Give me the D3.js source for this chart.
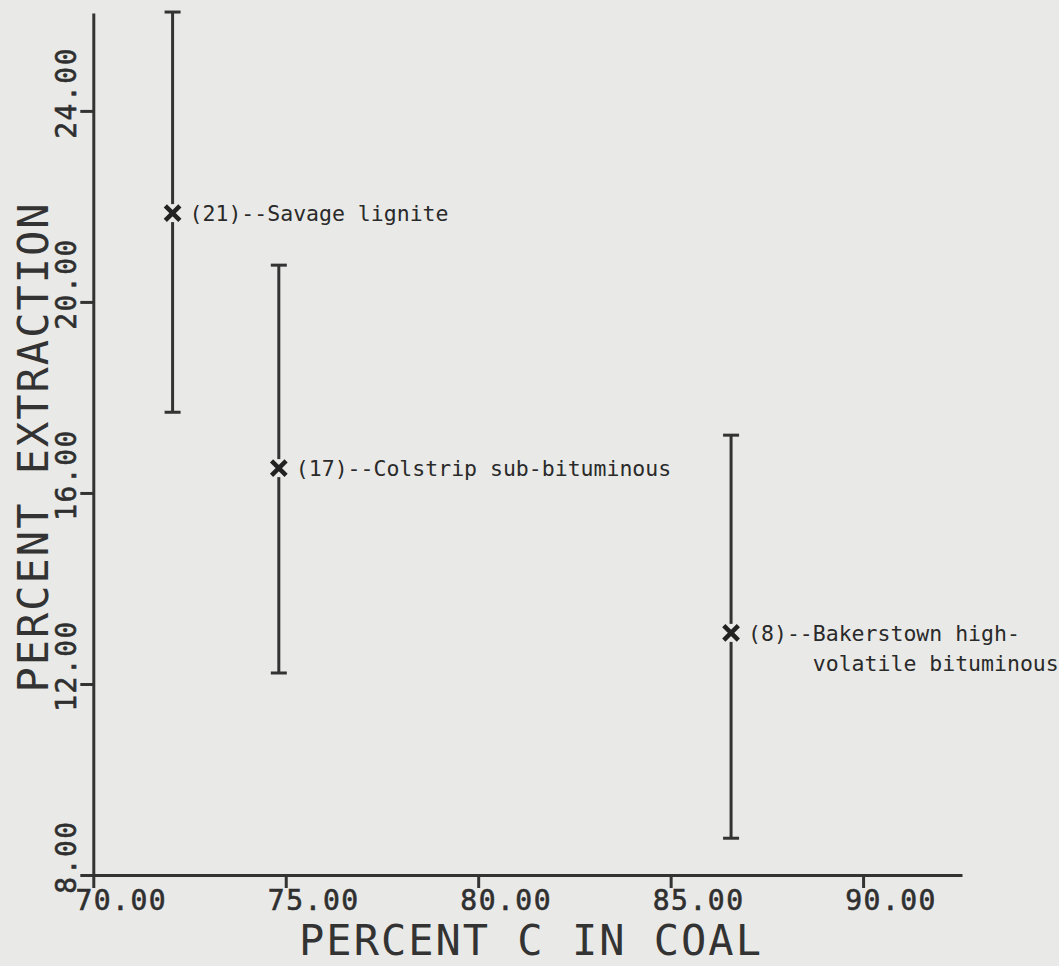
<!DOCTYPE html>
<html>
<head>
<meta charset="utf-8">
<script src="https://cdnjs.cloudflare.com/ajax/libs/d3/7.8.5/d3.min.js"></script>
<style>
  body { margin: 0; background: #e9e9e7; }
  svg { display: block; }
  .axis path, .axis line { stroke: #333; stroke-width: 3px; }
  .ticklbl { font-family: "DejaVu Sans Mono", monospace; font-size: 28px; fill: #2f2f2f; letter-spacing: 1.5px; stroke: #2f2f2f; stroke-width: 0.6px; }
  .title { font-family: "DejaVu Sans Mono", monospace; font-size: 42px; fill: #333; letter-spacing: 2px; }
  .ptlbl { font-family: "DejaVu Sans Mono", monospace; font-size: 21.5px; fill: #2a2a2a; }
  .bar { stroke: #333; stroke-width: 3px; fill: none; }
  .mark { stroke: #222; stroke-width: 4.5px; fill: none; }
</style>
</head>
<body>
<div id="chartHolder"></div>
<script>
// coal samples
const coals = ["(21)--Savage lignite", "(17)--Colstrip sub-bituminous", "(8)--Bakerstown high-"];
const labelLine2 = ["", "", "     volatile bituminous"];
const carbon = [72.06, 74.82, 86.57];     // percent C in coal
const extraction = [21.86, 16.52, 13.07]; // percent extraction
const extrLow = [17.69, 12.23, 8.77];
const extrHigh = [26.07, 20.77, 17.21];

const xTicks = [70, 75, 80, 85, 90];
const yTicks = [8, 12, 16, 20, 24];

const w = 1059;
const h = 966;

const x = d3.scaleLinear().domain([70, 92.57]).range([93.3, 962]);
const y = d3.scaleLinear().domain([8, 26.05]).range([875, 13]);

const svg = d3.select("#chartHolder")
  .append("svg")
  .attr("width", w)
  .attr("height", h);

// axes, labels drawn by hand below because the plotter shifts them off the ticks
const xAxis = d3.axisBottom(x).tickValues(xTicks).tickSize(13).tickSizeOuter(0).tickFormat("");
svg.append("g")
  .attr("class", "axis")
  .attr("transform", "translate(0," + y(8) + ")")
  .call(xAxis);

const yAxis = d3.axisLeft(y).tickValues(yTicks).tickSize(13).tickSizeOuter(0).tickFormat("");
svg.append("g")
  .attr("class", "axis")
  .attr("transform", "translate(" + x(70) + ",0)")
  .call(yAxis);

svg.selectAll(".xlbl")
  .data(xTicks)
  .enter()
  .append("text")
  .attr("class", "ticklbl")
  .attr("text-anchor", "middle")
  .attr("x", (d) => x(d) + 28)
  .attr("y", 910)
  .text((d) => d3.format(".2f")(d));

svg.selectAll(".ylbl")
  .data(yTicks)
  .enter()
  .append("text")
  .attr("class", "ticklbl")
  .attr("text-anchor", "middle")
  .attr("transform", (d) => "translate(76," + (y(d) - 18) + ")rotate(-90)")
  .text((d) => d3.format(".2f")(d));

svg.append("text")
  .attr("class", "title")
  .attr("text-anchor", "middle")
  .attr("x", 531)
  .attr("y", 955)
  .text("PERCENT C IN COAL");

svg.append("text")
  .attr("class", "title")
  .attr("text-anchor", "middle")
  .attr("transform", "translate(48,447)rotate(-90)")
  .text("PERCENT EXTRACTION");

// error bars with a small gap round the cross
const gap = 9;
const capW = 8;
const pts = d3.range(coals.length);

pts.forEach((i) => {
  const cx = x(carbon[i]);
  const cy = y(extraction[i]);
  const g = svg.append("g");
  g.append("line").attr("class", "bar")
    .attr("x1", cx).attr("x2", cx)
    .attr("y1", y(extrHigh[i])).attr("y2", cy - gap);
  g.append("line").attr("class", "bar")
    .attr("x1", cx).attr("x2", cx)
    .attr("y1", cy + gap).attr("y2", y(extrLow[i]));
  g.append("line").attr("class", "bar")
    .attr("x1", cx - capW).attr("x2", cx + capW)
    .attr("y1", y(extrHigh[i])).attr("y2", y(extrHigh[i]));
  g.append("line").attr("class", "bar")
    .attr("x1", cx - capW).attr("x2", cx + capW)
    .attr("y1", y(extrLow[i])).attr("y2", y(extrLow[i]));
  g.append("path")
    .attr("class", "mark")
    .attr("transform", "translate(" + cx + "," + cy + ")")
    .attr("d", d3.symbol(d3.symbolX, 140)());

  g.append("text")
    .attr("class", "ptlbl")
    .attr("x", cx + 17)
    .attr("y", cy + 8)
    .style("white-space", "pre")
    .text(coals[i]);
  if (labelLine2[i] != "") {
    g.append("text")
      .attr("class", "ptlbl")
      .attr("x", cx + 17)
      .attr("y", cy + 38)
      .style("white-space", "pre")
      .text(labelLine2[i]);
  }
});
</script>
</body>
</html>
